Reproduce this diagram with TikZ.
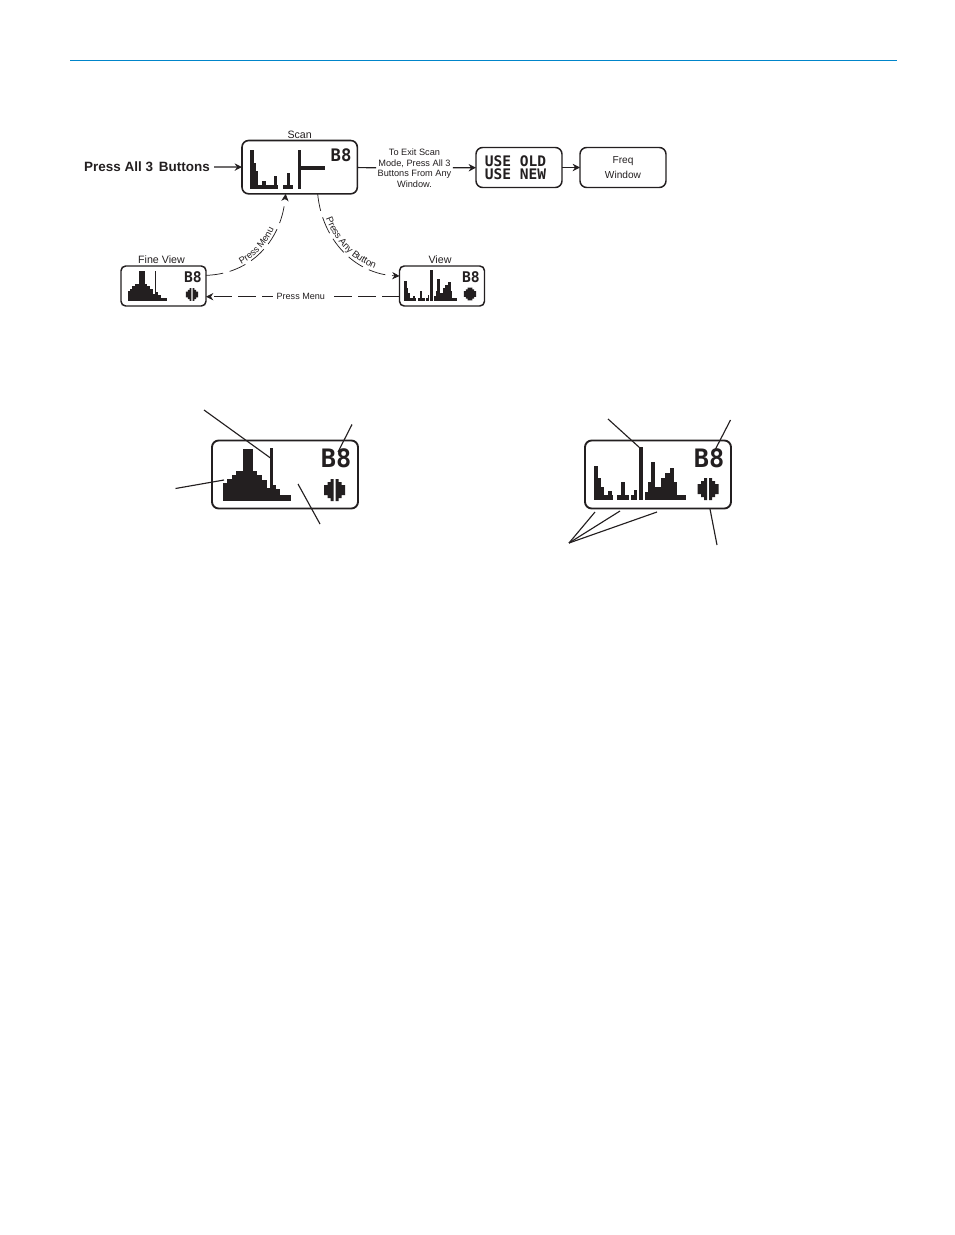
\documentclass[tikz,border=0pt]{standalone}
\usepackage{fontspec}
\setmainfont{Liberation Sans}
\newfontfamily\lcdfont{DejaVu Sans Mono}[BoldFont={DejaVu Sans Mono Bold}]
\usetikzlibrary{arrows.meta,positioning,decorations.text}
\definecolor{ink}{RGB}{35,31,32}
\definecolor{rulecol}{RGB}{0,133,202}
\newcommand{\lcdbars}[2]{%
  \foreach \xa/\xb/\yt in {#2} \fill[ink] (\xa,\yt) rectangle ({\xb+0.15},#1);}
\tikzset{
  lcd/.style={draw=ink, line width=1.4pt, rounded corners=5pt, fill=white, anchor=north west, inner sep=0pt, outer sep=0pt},
  lcdbig/.style={lcd, minimum width=109.5pt, minimum height=51pt},
  lcdsmall/.style={lcd, minimum width=63.75pt, minimum height=30pt, line width=1.1pt, rounded corners=3.5pt},
  lcdscan/.style={lcd, minimum width=86.5pt, minimum height=40pt, line width=1.2pt},
  lcdmsg/.style={lcd, minimum width=64.5pt, minimum height=30pt, line width=1.1pt},
  lcdtxt/.style={transform shape, inner sep=0pt, text=ink, font=\lcdfont\bfseries\fontsize{19}{19}\selectfont},
  arr/.style={-{Stealth[length=5.5pt,width=5.5pt]}, ink, line width=0.9pt},
  dasharr/.style={-{Stealth[length=5.5pt,width=5.5pt]}, ink, line width=0.55pt, dash pattern=on 13pt off 5pt},
  ttl/.style={font=\fontsize{8}{9}\selectfont, text=ink, inner sep=1pt},
  leader/.style={ink, line width=0.85pt},
  pics/splitmark/.style={code={
    \foreach \sgn in {-1,1}
      \fill[ink, xscale=\sgn] (1,-11) -- (4,-11) -- (4,-8) -- (7,-8) -- (7,-5) -- (10.5,-5) -- (10.5,5)
        -- (7,5) -- (7,8) -- (4,8) -- (4,11) -- (1,11) -- cycle;
  }},
  pics/dotmark/.style={code={
    \fill[ink] (-4,-11) -- (4,-11) -- (4,-8) -- (7,-8) -- (7,-5) -- (10.5,-5) -- (10.5,5) -- (7,5) -- (7,8)
      -- (4,8) -- (4,11) -- (-4,11) -- (-4,8) -- (-7,8) -- (-7,5) -- (-10.5,5) -- (-10.5,-5) -- (-7,-5) -- (-7,-8) -- (-4,-8) -- cycle;
  }},
  pics/finegraph/.style={code={
    \lcdbars{60.7}{11.3/15.3/43.3, 15.3/19.7/39.3, 19.7/23.7/35, 23.7/31.3/31, 31.3/41.3/9.3, 41.3/45.3/31,
      45.3/49.7/35, 49.7/54.7/40, 54.7/58/48.3, 58/60.7/8, 60.7/64/45, 64/68/49.3, 68/78.7/55}
    \node[lcdtxt] at (124,18.5) {B8};
  }},
  pics/viewgraph/.style={code={
    \lcdbars{59.7}{9/13/26, 13/15.7/37.7, 15.7/18.7/46.7, 18.7/23.3/55, 23.3/27.3/51, 27.3/28/55, 32/36/55, 36/40/42.3,
      40/44/55, 46/49.3/55, 49.3/52.3/50, 54/58/6.7, 59.7/63.3/51.7, 63.3/66/42.3, 66/70/22.3, 70/76/46.7,
      76/80/37.7, 80/84.7/33.3, 84.7/88.7/28.3, 88.7/92/42.3, 92/100.7/55}
    \node[lcdtxt] at (124,18.5) {B8};
  }},
  pics/scangraph/.style={code={
    \lcdbars{49.3}{8/12/10.3, 12/14/23, 14/16/31.3, 16/20/44.7, 20/24/41.3, 24/32/44.7, 32/35.3/35.7, 35.3/35.5/44.7,
      41.3/44.7/44.7, 44.7/48/33, 48/50.7/44.7, 56/59/10.3}
    \fill[ink] (59,26.3) rectangle (83,29.7);
    \node[lcdtxt, scale=0.68] at (99,15) {B8};
  }},
}
\begin{document}
\begin{tikzpicture}[x=0.75pt,y=-0.75pt]
  \useasboundingbox (0,0) rectangle (954,1235);
  \draw[rulecol, line width=0.8pt] (70,60.5) -- (897,60.5);

  % top flow
  \node[lcdscan] (scan) at (242,140.5) {};
  \pic at (242,140) {scangraph};
  \node[ttl, above=0.5pt of scan] (scanttl) {Scan};
  \node[lcdmsg] (useold) at (476,147.5) {};
  \node[inner sep=0pt, align=left, text=ink, font=\lcdfont\bfseries\fontsize{10.9}{9.4}\selectfont] (usetxt) at (515.5,167.5) {USE OLD\\USE NEW};
  \node[lcdmsg, font=\fontsize{7.6}{11}\selectfont, align=center, text=ink] (freq) at (580,147.5) {Freq\\Window};
  \node[font=\bfseries\fontsize{10.1}{11}\selectfont, text=ink, inner sep=3pt] (press) at (147,167) {Press All 3\, Buttons};
  \node[ttl, align=center, font=\fontsize{6.9}{7.9}\selectfont] (exitnote) at (414.5,168) {To Exit Scan\\Mode, Press All 3\\Buttons From Any\\Window.};
  \draw[arr] (press) -- (scan);
  \draw[ink, line width=0.9pt] (scan) -- (exitnote);
  \draw[arr] (exitnote) -- (useold);
  \draw[arr] (useold) -- (freq);

  % small screens
  \node[lcdsmall] (fineview) at (121,266) {};
  \pic[scale=0.58] at (121,266) {finegraph};
  \pic[scale=0.58] at (192,294.5) {splitmark};
  \node[ttl, above=0.5pt of fineview, xshift=-1.5pt] (finettl) {Fine View};
  \node[lcdsmall] (view) at (399.5,266) {};
  \pic[scale=0.58] at (399,266) {viewgraph};
  \pic[scale=0.58] at (470,294) {dotmark};
  \node[ttl, above=0.5pt of view, xshift=-1.5pt] (viewttl) {View};

  \draw[dasharr, postaction={decorate, decoration={text along path, raise=1.5pt, text align=center,
      text={|\fontsize{7}{8}\selectfont\color{ink}|Press Menu}}}]
    ([yshift=8pt]fineview.east) .. controls (250,274) and (281,242) .. ([xshift=-10.5pt]scan.south);
  \draw[dasharr, postaction={decorate, decoration={text along path, raise=2pt, text align=center,
      text={|\fontsize{7.2}{8}\selectfont\color{ink}|Press Any Button}}}]
    ([xshift=13.5pt]scan.south) .. controls (322,240) and (355,274) .. ([yshift=7.5pt]view.west);
  \draw[dasharr] ([yshift=-8pt]view.west) -- node[ttl, pos=0.51, fill=white, inner sep=3pt, font=\fontsize{6.8}{8}\selectfont] (menulab) {Press Menu} ([yshift=-8pt]fineview.east);

  % large screens
  \node[lcdbig] (finebig) at (212,440.5) {};
  \pic at (212,440) {finegraph};
  \pic at (334.5,490) {splitmark};
  \node[lcdbig] (viewbig) at (585,440.5) {};
  \pic at (585,440) {viewgraph};
  \pic at (708,489) {splitmark};

  % callout lines
  \coordinate (fa) at (204,410);   \coordinate (fb) at (270.5,458);
  \coordinate (ga) at (352,424.5); \coordinate (gb) at (338,452);
  \coordinate (ha) at (175.5,488.5); \coordinate (hb) at (224,480);
  \coordinate (ia) at (320,524);   \coordinate (ib) at (298,484);
  \coordinate (ja) at (608,419);   \coordinate (jb) at (640,448);
  \coordinate (ka) at (730.5,420); \coordinate (kb) at (715,450);
  \coordinate (la) at (569,543);   \coordinate (lb) at (595,512);
  \coordinate (lc) at (620,511);   \coordinate (ld) at (657,512);
  \coordinate (ma) at (717,545);   \coordinate (mb) at (710,509);
  \foreach \p/\q in {fa/fb, ga/gb, ha/hb, ia/ib, ja/jb, ka/kb, la/lb, la/lc, la/ld, ma/mb}
    \draw[leader] (\p) -- (\q);
\end{tikzpicture}
\end{document}
